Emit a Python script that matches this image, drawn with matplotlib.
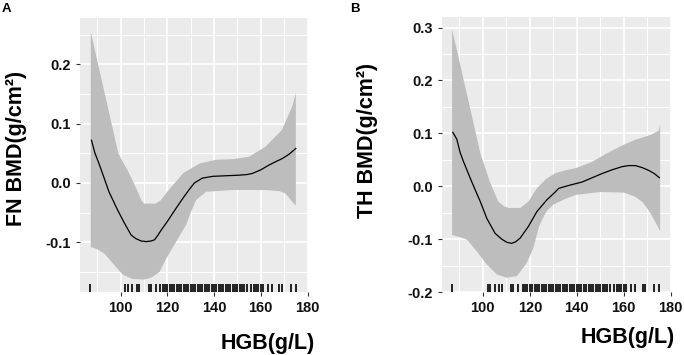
import matplotlib
matplotlib.use('Agg')
import matplotlib.pyplot as plt
from matplotlib.ticker import FormatStrFormatter
import numpy as np

# observed HGB values (rug)
rug_hgb = [87, 102, 103, 105, 107, 108, 112, 113, 115, 117, 118, 119, 120, 121, 122, 123, 124,
           125, 126, 127, 128, 129, 130, 131, 132, 133, 134, 135, 136, 137, 138, 139, 140, 141,
           142, 143, 144, 145, 146, 147, 148, 149, 150, 151, 152, 153, 154, 156, 157, 158, 159,
           160, 161, 163, 165, 168, 169, 173, 175]

# panel A: FN BMD
fn_x = [87.5, 89, 90.5, 92.5, 95, 98.6, 101.5, 104.5, 106.5, 108.8, 111, 113, 114.5, 116,
        117.3, 120, 123.7, 127, 129.4, 131.6, 135, 139.4, 145, 150.8, 154, 156.5, 160, 163.5,
        166, 169.2, 172, 175]
fn_y = [0.072, 0.05, 0.035, 0.013, -0.015, -0.045, -0.067, -0.088, -0.094, -0.098, -0.099,
        -0.098, -0.096, -0.088, -0.08, -0.065, -0.043, -0.024, -0.011, 0.0, 0.008, 0.011,
        0.012, 0.013, 0.014, 0.016, 0.022, 0.03, 0.035, 0.041, 0.048, 0.058]
fn_up_x = [87.2, 90, 93, 96, 99, 101, 103, 105, 107, 109, 110, 115, 117, 120, 123, 127, 134,
           141, 148, 155, 162, 169, 173.5, 175]
fn_up_y = [0.255, 0.206, 0.154, 0.102, 0.05, 0.035, 0.021, 0.005, -0.012, -0.03, -0.035,
           -0.035, -0.03, -0.015, -0.001, 0.017, 0.033, 0.039, 0.04, 0.044, 0.061, 0.089,
           0.129, 0.152]
fn_lo_x = [87.2, 90, 93, 97.4, 101, 105, 110, 113, 116.7, 119.6, 123.8, 128, 130, 132.3,
           136.6, 148, 162, 168, 170.6, 173.5, 175]
fn_lo_y = [-0.108, -0.112, -0.119, -0.139, -0.155, -0.162, -0.163, -0.16, -0.15, -0.127,
           -0.099, -0.071, -0.05, -0.029, -0.015, -0.012, -0.012, -0.014, -0.018, -0.032,
           -0.038]

# panel B: TH BMD
th_x = [87.2, 88.9, 90.3, 91.8, 95.3, 98.9, 101.7, 105.2, 108, 110.2, 112.3, 114, 115.9,
        119.4, 123, 127.2, 130.8, 132.3, 137, 142.3, 146, 150.8, 155, 159.3, 162, 165, 168,
        170.6, 173, 175.2]
th_y = [0.102, 0.089, 0.064, 0.046, 0.008, -0.029, -0.061, -0.089, -0.1, -0.106, -0.108,
        -0.105, -0.098, -0.076, -0.048, -0.026, -0.011, -0.004, 0.002, 0.008, 0.015, 0.024,
        0.031, 0.037, 0.039, 0.039, 0.035, 0.03, 0.024, 0.016]
th_up_x = [86.9, 90, 93, 96, 99, 101, 103, 106.6, 109, 111, 116, 119.4, 123, 127, 131, 135,
           139.4, 146, 153.6, 160.7, 165, 168, 172, 174.9, 175.5]
th_up_y = [0.296, 0.237, 0.178, 0.12, 0.061, 0.035, 0.008, -0.029, -0.038, -0.041, -0.041,
           -0.029, -0.004, 0.014, 0.025, 0.03, 0.034, 0.045, 0.064, 0.08, 0.088, 0.092, 0.098,
           0.105, 0.117]
th_lo_x = [86.9, 90, 93.2, 97.4, 101.7, 106, 110.2, 114.5, 118.7, 121.5, 124, 127, 130, 135,
           140, 150, 160, 165, 168, 171, 173.5, 175.5]
th_lo_y = [-0.092, -0.096, -0.101, -0.123, -0.148, -0.167, -0.173, -0.17, -0.145, -0.117,
           -0.075, -0.048, -0.035, -0.024, -0.016, -0.011, -0.012, -0.02, -0.03, -0.048,
           -0.068, -0.085]

x_major = [100, 120, 140, 160, 180]
x_minor = [90, 110, 130, 150, 170]

LABEL_FONT = ['Liberation Sans Narrow', 'Liberation Sans', 'DejaVu Sans']


def draw_panel(ax, x, y, up_x, up_y, lo_x, lo_y, ylim, y_major, y_minor):
    ax.set_facecolor('#EBEBEB')
    for s in ax.spines.values():
        s.set_visible(False)
    ax.set_axisbelow(True)
    ax.set_xlim(82.6, 180)
    ax.set_ylim(*ylim)
    ax.set_xticks(x_major)
    ax.set_xticks(x_minor, minor=True)
    ax.set_yticks(y_major)
    ax.set_yticks(y_minor, minor=True)
    ax.yaxis.set_major_formatter(FormatStrFormatter('%.1f'))
    ax.grid(which='major', color='white', lw=1.2)
    ax.grid(which='minor', color='white', lw=0.7)
    ax.tick_params(which='major', length=3, width=0.8, color='#333333', pad=3.5,
                   labelsize=10.5, labelcolor='#111111')
    ax.tick_params(which='minor', length=0)
    for lab in ax.get_xticklabels() + ax.get_yticklabels():
        lab.set_fontweight('bold')
        lab.set_family(['Liberation Sans', 'DejaVu Sans'])

    poly_x = np.r_[up_x, lo_x[::-1]]
    poly_y = np.r_[up_y, lo_y[::-1]]
    ax.fill(poly_x, poly_y, color='#BDBDBD', lw=0, zorder=2)
    ax.plot(x, y, color='black', lw=0.9, zorder=3)
    ax.vlines(rug_hgb, 0, 0.03, transform=ax.get_xaxis_transform(),
              color='#111111', lw=1.3, zorder=3)


def main():
    fig = plt.figure(figsize=(6.84, 3.55), dpi=100)
    W, H = 684.0, 355.0

    ax1 = fig.add_axes([80 / W, (H - 292) / H, (307.5 - 80) / W, (292 - 18) / H])
    draw_panel(ax1, fn_x, fn_y, fn_up_x, fn_up_y, fn_lo_x, fn_lo_y,
               (-0.184, 0.278), [-0.1, 0.0, 0.1, 0.2], [-0.15, -0.05, 0.05, 0.15, 0.25])

    ax2 = fig.add_axes([442 / W, (H - 292) / H, (670.7 - 442) / W, (292 - 17) / H])
    draw_panel(ax2, th_x, th_y, th_up_x, th_up_y, th_lo_x, th_lo_y,
               (-0.2, 0.32), [-0.2, -0.1, 0.0, 0.1, 0.2, 0.3],
               [-0.15, -0.05, 0.05, 0.15, 0.25])

    # panel letters
    fig.text(2 / W, 1 - 12 / H, 'A', fontsize=9.5, fontweight='bold',
             family=['Liberation Sans', 'DejaVu Sans'])
    fig.text(350 / W, 1 - 12 / H, 'B', fontsize=9.5, fontweight='bold',
             family=['Liberation Sans', 'DejaVu Sans'])

    # axis titles
    fig.text(17 / W, 1 - 148 / H, 'FN BMD(g/cm²)', rotation=90, ha='center', va='center',
             fontsize=15.5, fontweight='bold', family=LABEL_FONT)
    fig.text(368 / W, 1 - 140 / H, 'TH BMD(g/cm²)', rotation=90, ha='center', va='center',
             fontsize=15.5, fontweight='bold', family=LABEL_FONT)
    fig.text(315 / W, 1 - 349 / H, 'HGB(g/L)', ha='right', va='baseline',
             fontsize=15.5, fontweight='bold', family=LABEL_FONT)
    fig.text(675 / W, 1 - 343 / H, 'HGB(g/L)', ha='right', va='baseline',
             fontsize=15.5, fontweight='bold', family=LABEL_FONT)

    fig.savefig('out.png', dpi=100)


if __name__ == '__main__':
    main()
